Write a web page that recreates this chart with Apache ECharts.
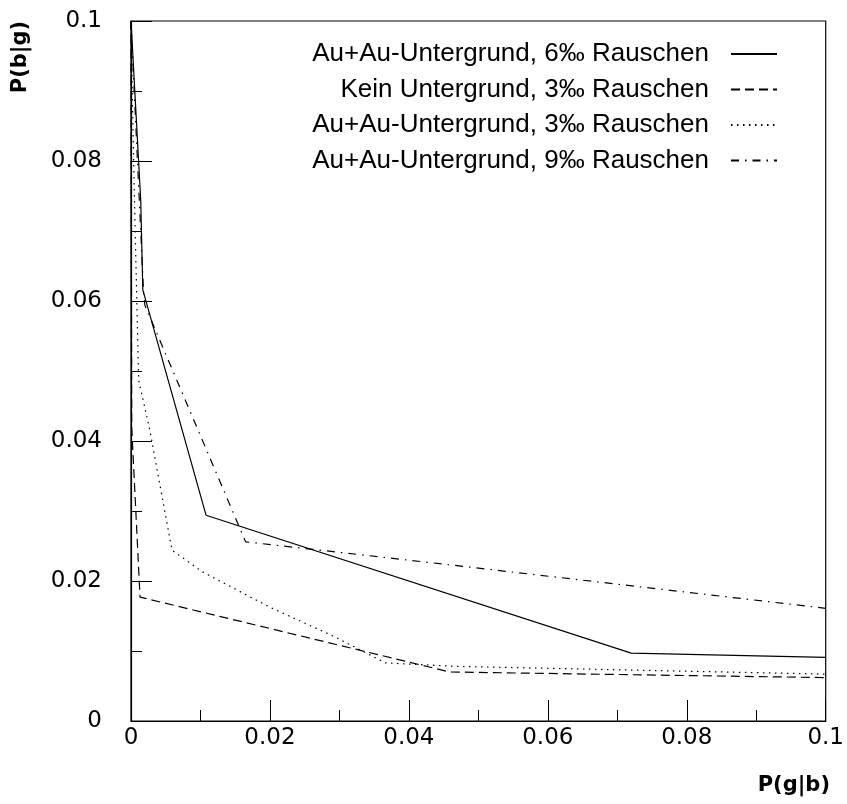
<!DOCTYPE html>
<html>
<head>
<meta charset="utf-8">
<script src="https://cdn.jsdelivr.net/npm/echarts@6/dist/echarts.min.js"></script>
<style>
  html, body { margin: 0; padding: 0; background: #fff; }
  #chart { width: 847px; height: 804px; }
</style>
</head>
<body>
<div id="chart"></div>
<script>
// P(g|b) vs P(b|g)
var names = [
  'Au+Au-Untergrund, 6‰ Rauschen',
  'Kein Untergrund, 3‰ Rauschen',
  'Au+Au-Untergrund, 3‰ Rauschen',
  'Au+Au-Untergrund, 9‰ Rauschen'
]
var auau6 = [[0, 0.1], [0.0014, 0.0744], [0.0017, 0.0616], [0.0108, 0.0294], [0.072, 0.0097], [0.1, 0.0091]]
var kein3 = [[0, 0.1], [0.0001, 0.042], [0.0013, 0.0177], [0.0459, 0.007], [0.1, 0.0062]]
var auau3 = [[0, 0.1], [0.0002, 0.0887], [0.0005, 0.0744], [0.0011, 0.0487], [0.0027, 0.0416],
  [0.0059, 0.0244], [0.0103, 0.0213], [0.0199, 0.0163], [0.0294, 0.012], [0.0366, 0.0083],
  [0.047, 0.0078], [0.1, 0.0067]]
var auau9 = [[0, 0.1], [0.0018, 0.0614], [0.002, 0.0594], [0.0165, 0.0256], [0.046, 0.0223], [0.1, 0.0161]]
var xTickLabels = ['0', '0.02', '0.04', '0.06', '0.08', '0.1']
var yTickLabels = ['0', '0.02', '0.04', '0.06', '0.08', '0.1']

var dashes = ['solid', [9, 5], [1.5, 4.5], [8, 6, 1.5, 6]]
var seriesData = [auau6, kein3, auau3, auau9]

var chart = echarts.init(document.getElementById('chart'))

var axisCommon = {
  type: 'value',
  min: 0,
  max: 0.1,
  interval: 0.02,
  splitLine: { show: false },
  axisLine: { show: true, lineStyle: { color: '#000', width: 1.2 } },
  axisTick: { show: true, inside: true, length: 21, lineStyle: { color: '#000', width: 1 } },
  minorTick: { show: true, splitNumber: 2, length: 11, lineStyle: { color: '#000', width: 1 } }
}

chart.setOption({
  animation: false,
  backgroundColor: '#fff',
  grid: {
    left: 131,
    top: 21,
    width: 699,
    height: 700,
    show: true,
    borderColor: '#000',
    borderWidth: 1.2
  },
  legend: {
    orient: 'vertical',
    right: 69,
    top: 41,
    padding: 0,
    align: 'right',
    itemWidth: 46,
    itemHeight: 26,
    itemGap: 9.5,
    selectedMode: false,
    itemStyle: { opacity: 0 },
    textStyle: {
      color: '#000',
      fontFamily: 'Liberation Sans',
      fontSize: 26,
      lineHeight: 26,
      padding: [0, 17, 0, 0]
    },
    data: names
  },
  xAxis: Object.assign({}, axisCommon, {
    axisLabel: {
      color: '#000',
      fontFamily: 'DejaVu Sans',
      fontSize: 23,
      margin: 6,
      formatter: function (v) { return xTickLabels[Math.round(v / 0.02)] }
    }
  }),
  yAxis: Object.assign({}, axisCommon, {
    axisLabel: {
      color: '#000',
      fontFamily: 'DejaVu Sans',
      fontSize: 23,
      margin: 29,
      formatter: function (v) { return yTickLabels[Math.round(v / 0.02)] }
    }
  }),
  graphic: [
    {
      type: 'text',
      x: 830,
      y: 786,
      style: {
        text: 'P(g|b)',
        fill: '#000',
        font: 'bold 21px "DejaVu Sans"',
        align: 'right',
        verticalAlign: 'middle'
      }
    },
    {
      type: 'text',
      x: 21,
      y: 57,
      rotation: Math.PI / 2,
      style: {
        text: 'P(b|g)',
        fill: '#000',
        font: 'bold 21px "DejaVu Sans"',
        align: 'center',
        verticalAlign: 'middle'
      }
    }
  ],
  series: seriesData.map(function (d, i) {
    return {
      name: names[i],
      type: 'line',
      data: d,
      symbol: 'none',
      clip: true,
      lineStyle: { color: '#000', width: 1.2, type: dashes[i] },
      itemStyle: { color: '#000' }
    }
  })
})
</script>
</body>
</html>
